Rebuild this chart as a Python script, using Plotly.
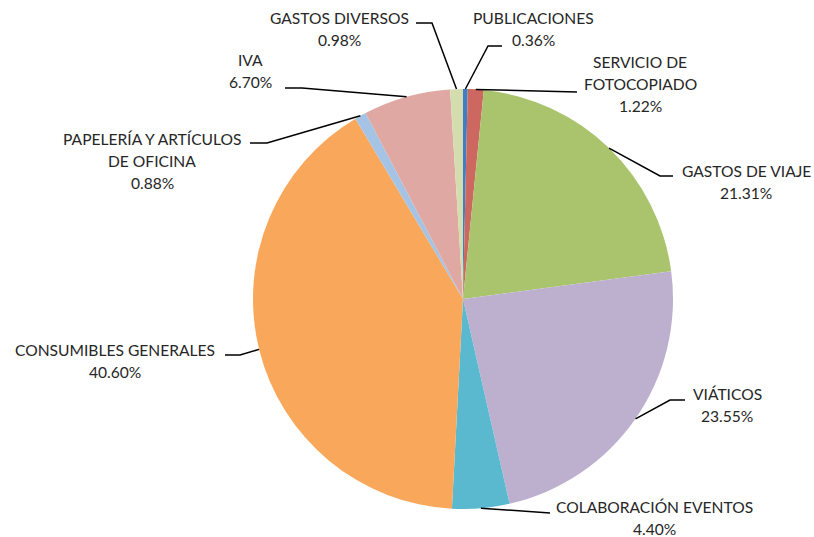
import math
import plotly.graph_objects as go

# Budget breakdown (percent of total)
categories = [
    "PUBLICACIONES",
    "SERVICIO DE FOTOCOPIADO",
    "GASTOS DE VIAJE",
    "VIÁTICOS",
    "COLABORACIÓN EVENTOS",
    "CONSUMIBLES GENERALES",
    "PAPELERÍA Y ARTÍCULOS DE OFICINA",
    "IVA",
    "GASTOS DIVERSOS",
]
values = [0.36, 1.22, 21.31, 23.55, 4.40, 40.60, 0.88, 6.70, 0.98]
label_lines = [
    ["PUBLICACIONES"],
    ["SERVICIO DE", "FOTOCOPIADO"],
    ["GASTOS DE VIAJE"],
    ["VIÁTICOS"],
    ["COLABORACIÓN EVENTOS"],
    ["CONSUMIBLES GENERALES"],
    ["PAPELERÍA Y ARTÍCULOS", "DE OFICINA"],
    ["IVA"],
    ["GASTOS DIVERSOS"],
]

colors = ["#3F7DC5", "#CD6861", "#A9C46C", "#BDB0CF", "#5BB9CF",
          "#F9A75A", "#A4C3E5", "#DFA8A3", "#D3DDAE"]

W, H = 814, 537
CX, CY, R = 463, 299, 210          # pie centre and radius in pixels
LINE_H = 22                          # label line spacing
FONT = dict(family="Lato, Open Sans, sans-serif", size=15.6, color="#262626")

# label placement: (text centre x, first line y, elbow point, line end point)
placement = [
    (533, 18, (488, 46), (502, 46)),
    (640, 62, None, (577, 92)),
    (746, 171, (660, 176), (673, 176)),
    (727, 394, (670, 400), (685, 400)),
    (654, 507, None, (550, 513)),
    (115, 350, (240, 355), (225, 355)),
    (152, 139, (267, 143), (250, 143)),
    (250, 60, (302, 88), (285, 88)),
    (339, 18, (432, 23), (416, 23)),
]

fig = go.Figure()

fig.add_trace(go.Pie(
    labels=categories,
    values=values,
    sort=False,
    direction="clockwise",
    rotation=0,
    marker=dict(colors=colors, line=dict(width=0)),
    textinfo="none",
    hoverinfo="label+percent",
    showlegend=False,
    domain=dict(x=[(CX - R) / W, (CX + R) / W],
                y=[1 - (CY + R) / H, 1 - (CY - R) / H]),
))

# hidden pixel-space axes for leader lines and labels
fig.add_trace(go.Scatter(x=[0, W], y=[0, H], mode="markers",
                         marker=dict(opacity=0), hoverinfo="skip",
                         showlegend=False))

total = sum(values)
cum = 0.0
for v, lines, (tx, ty, elbow, end) in zip(values, label_lines, placement):
    mid = (cum + v / 2) / total * 2 * math.pi
    cum += v
    ax = CX + R * math.sin(mid)
    ay = CY - R * math.cos(mid)
    pts = [(ax, ay)]
    if elbow is not None:
        pts.append(elbow)
    pts.append(end)
    path = "M " + " L ".join(f"{x:.1f},{y:.1f}" for x, y in pts)
    fig.add_shape(type="path", path=path, xref="x", yref="y",
                  line=dict(color="#000000", width=1.5), layer="above")
    text_lines = lines + [f"{v:.2f}%"]
    for i, t in enumerate(text_lines):
        fig.add_annotation(x=tx, y=ty + i * LINE_H, xref="x", yref="y",
                           text=t, showarrow=False, font=FONT,
                           xanchor="center", yanchor="middle")

fig.update_layout(
    width=W, height=H,
    margin=dict(l=0, r=0, t=0, b=0),
    paper_bgcolor="white",
    plot_bgcolor="rgba(0,0,0,0)",
    xaxis=dict(range=[0, W], visible=False, fixedrange=True, domain=[0, 1]),
    yaxis=dict(range=[H, 0], visible=False, fixedrange=True, domain=[0, 1]),
)

fig.write_html("out.html")
